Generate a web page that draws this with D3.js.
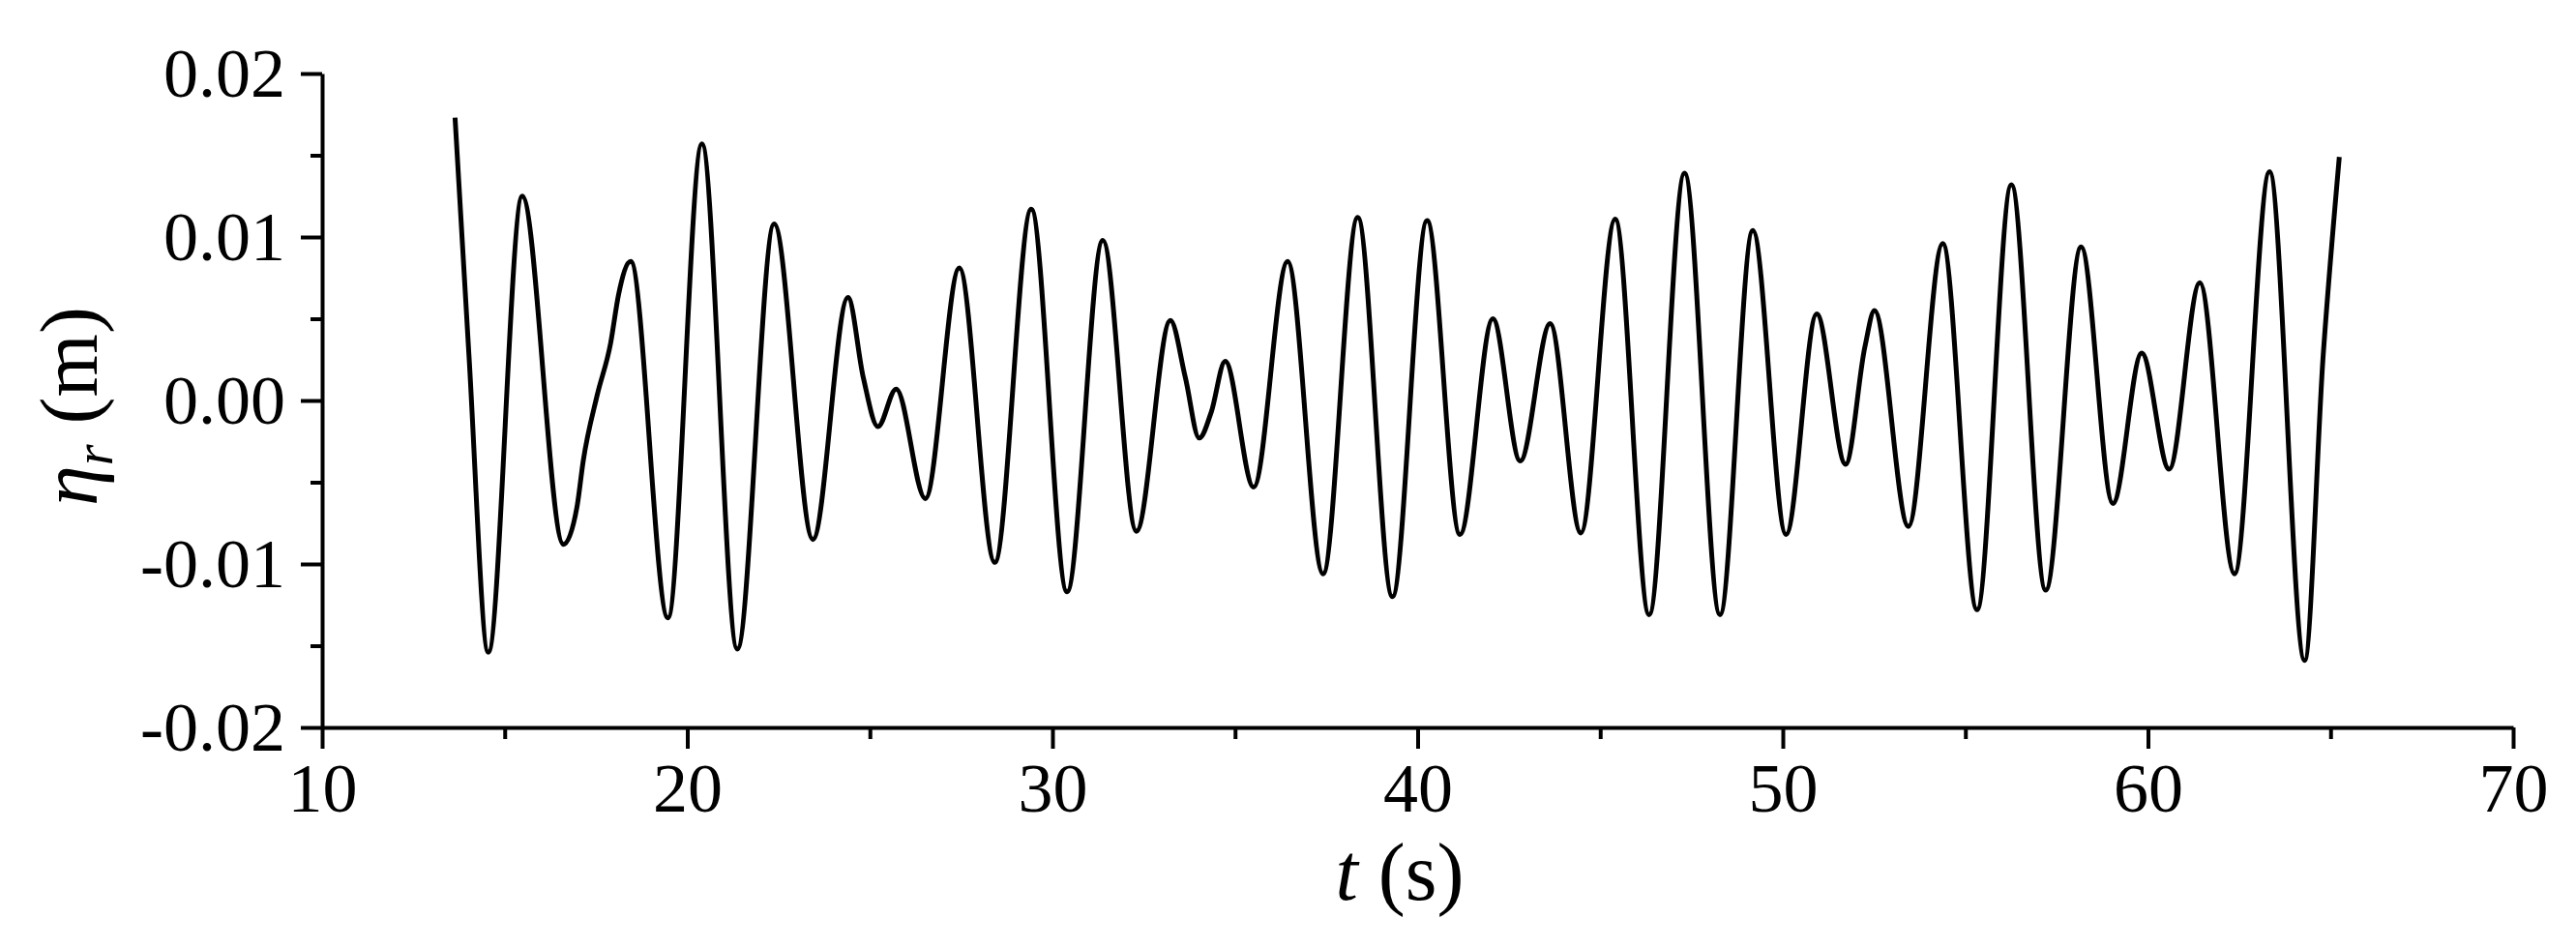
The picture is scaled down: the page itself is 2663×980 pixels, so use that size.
<!DOCTYPE html>
<html>
<head>
<meta charset="utf-8">
<script src="https://cdn.jsdelivr.net/npm/d3@7/dist/d3.min.js"></script>
<style>
  html, body { margin: 0; padding: 0; background: #fff; }
  svg { display: block; }
  text { font-family: "Liberation Serif", "Times New Roman", serif; fill: #000; }
</style>
</head>
<body>
<svg id="chart" width="2663" height="980"></svg>
<script>
// ---- data ----
const tValues = [13.64, 14.02, 14.55, 15.48, 16.61, 16.98, 17.15, 17.53, 17.90, 18.12, 18.45,
  19.47, 20.40, 21.37, 22.38, 23.44, 24.40, 24.82, 25.22, 25.72, 26.52, 27.45, 28.42, 29.42,
  30.40, 31.38, 32.30, 33.23, 33.64, 34.02, 34.35, 34.73, 35.51, 36.44, 37.41, 38.36, 39.31,
  40.26, 41.16, 42.06, 42.81, 43.63, 44.47, 45.41, 46.34, 47.31, 48.28, 49.18, 50.09, 50.93,
  51.72, 52.25, 52.51, 53.44, 54.38, 55.32, 56.26, 57.20, 58.17, 59.04, 59.83, 60.58, 61.42,
  62.37, 63.33, 64.29, 64.80, 65.24];
const etaValues = [0.0173, 0.0028, -0.0154, 0.0125, -0.0088, -0.0065, -0.0037, 0.0003, 0.0035, 0.0065, 0.0085,
  -0.0133, 0.0157, -0.0152, 0.0108, -0.0085, 0.0063, 0.0014, -0.0016, 0.0007, -0.0060, 0.0081, -0.0099, 0.0117,
  -0.0117, 0.0098, -0.0080, 0.0049, 0.0014, -0.0023, -0.0007, 0.0024, -0.0053, 0.0085, -0.0106, 0.0112, -0.0120,
  0.0110, -0.0082, 0.0050, -0.0037, 0.0047, -0.0081, 0.0111, -0.0131, 0.0139, -0.0131, 0.0104, -0.0082, 0.0053,
  -0.0039, 0.0033, 0.0055, -0.0077, 0.0096, -0.0128, 0.0132, -0.0116, 0.0094, -0.0063, 0.0029, -0.0042, 0.0072,
  -0.0106, 0.0140, -0.0159, 0.0028, 0.0149];
const xTicks = [10, 20, 30, 40, 50, 60, 70];
const xMinorTicks = [15, 25, 35, 45, 55, 65];
const yTicks = [-0.02, -0.01, 0.00, 0.01, 0.02];
const yTickLabels = ["-0.02", "-0.01", "0.00", "0.01", "0.02"];
const yMinorTicks = [-0.015, -0.005, 0.005, 0.015];
const xDomain = [10, 70];
const yDomain = [-0.02, 0.02];

// ---- layout ----
const svg = d3.select("#chart");
const x = d3.scaleLinear().domain(xDomain).range([333, 2598]);
const y = d3.scaleLinear().domain(yDomain).range([752, 76]);
const axisStroke = 4;

// data line
const pts = tValues.map((t, i) => [t, etaValues[i]]);
const line = d3.line().x(d => x(d[0])).y(d => y(d[1])).curve(d3.curveMonotoneX);
svg.append("path").datum(pts)
  .attr("d", line)
  .attr("fill", "none")
  .attr("stroke", "#000")
  .attr("stroke-width", 5)
  .attr("stroke-linejoin", "round");

function styleAxis(g) {
  g.select(".domain").attr("stroke", "#000").attr("stroke-width", axisStroke);
  g.selectAll(".tick line").attr("stroke", "#000").attr("stroke-width", axisStroke);
  g.selectAll(".tick text").attr("font-family", "'Liberation Serif', 'Times New Roman', serif")
    .attr("font-size", 72).attr("fill", "#000");
}

// x axis
const gx = svg.append("g").attr("transform", `translate(0,${y(yDomain[0])})`)
  .call(d3.axisBottom(x).tickValues(xTicks).tickSize(22).tickSizeOuter(0).tickPadding(14)
    .tickFormat(d3.format("d")));
styleAxis(gx);
const gxm = svg.append("g").attr("transform", `translate(0,${y(yDomain[0])})`)
  .call(d3.axisBottom(x).tickValues(xMinorTicks).tickSize(12).tickSizeOuter(0).tickFormat(""));
styleAxis(gxm);
gxm.select(".domain").remove();

// y axis
const gy = svg.append("g").attr("transform", `translate(${x(xDomain[0])},0)`)
  .call(d3.axisLeft(y).tickValues(yTicks).tickSize(22).tickSizeOuter(0).tickPadding(16)
    .tickFormat((d, i) => yTickLabels[i]));
styleAxis(gy);
const gym = svg.append("g").attr("transform", `translate(${x(xDomain[0])},0)`)
  .call(d3.axisLeft(y).tickValues(yMinorTicks).tickSize(12).tickSizeOuter(0).tickFormat(""));
styleAxis(gym);
gym.select(".domain").remove();

// x title
const xt = svg.append("text")
  .attr("x", 1447).attr("y", 930)
  .attr("text-anchor", "middle")
  .attr("font-size", 84);
xt.append("tspan").attr("font-style", "italic").text("t");
xt.append("tspan").text(" (s)");

// y title
const yt = svg.append("text")
  .attr("transform", "translate(100,420) rotate(-90)")
  .attr("text-anchor", "middle")
  .attr("font-size", 84);
yt.append("tspan").attr("font-style", "italic").text("η");
yt.append("tspan").attr("font-style", "italic").attr("font-size", 56).attr("dy", 16).text("r");
yt.append("tspan").attr("dy", -16).text(" (m)");
</script>
</body>
</html>
